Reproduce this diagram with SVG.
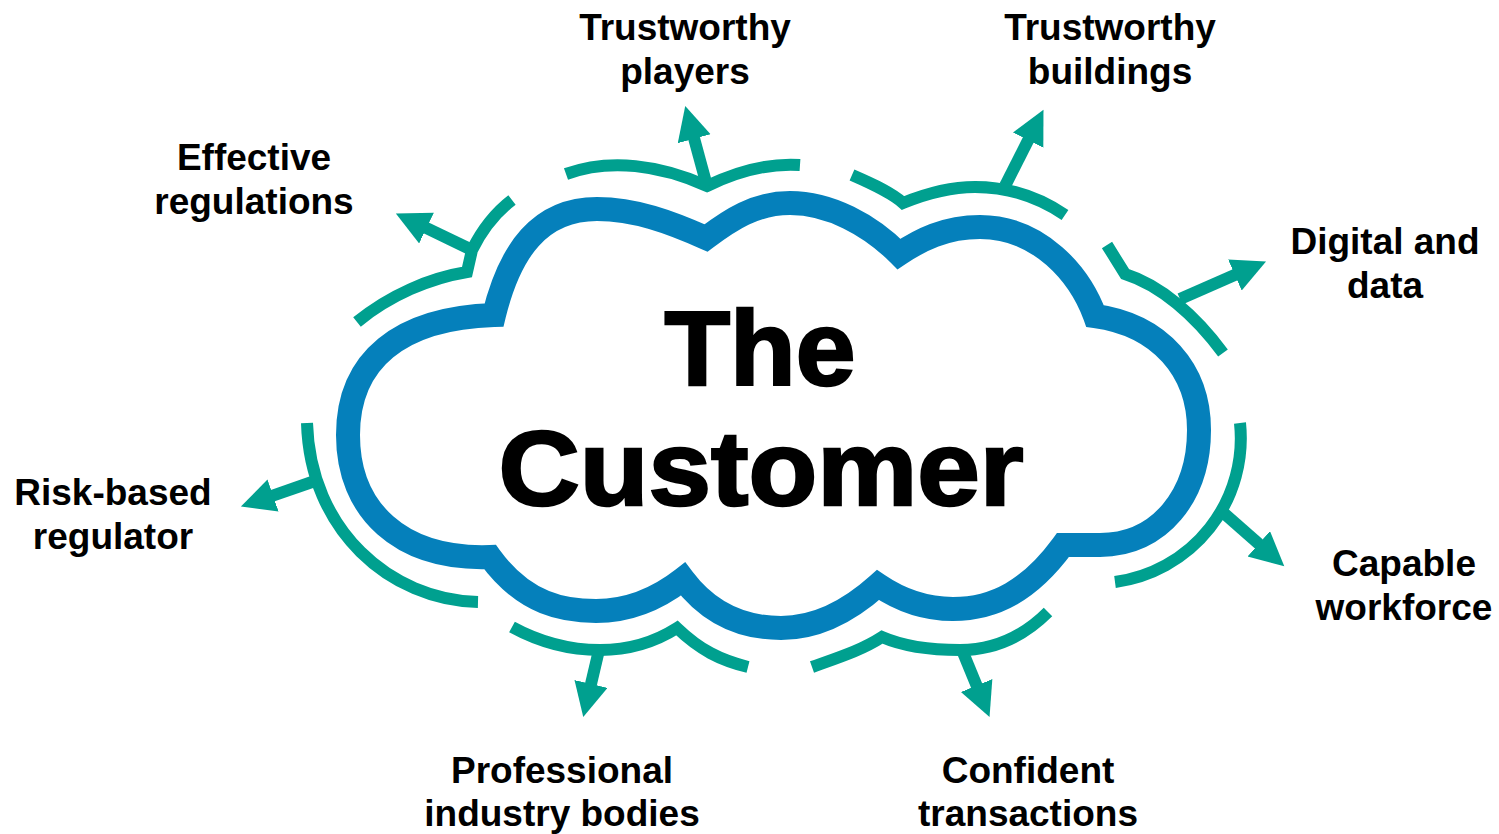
<svg xmlns="http://www.w3.org/2000/svg" width="1499" height="834" viewBox="0 0 1499 834">
<style>
.cloud{fill:#fff;stroke:#0580BB;stroke-width:24;stroke-linejoin:miter;stroke-miterlimit:10}
.arc{fill:none;stroke:#00A08F;stroke-width:12;stroke-linejoin:miter;stroke-miterlimit:10}
.shaft{fill:none;stroke:#00A08F;stroke-width:12;marker-end:url(#ah)}
.lbl{font-family:"Liberation Sans",Arial,sans-serif;font-weight:bold;font-size:37px;fill:#000;text-anchor:middle}
.big{font-family:"Liberation Sans",Arial,sans-serif;font-weight:bold;font-size:106px;fill:#000;stroke:#000;stroke-width:2.5;text-anchor:middle}
</style>
<defs>
<marker id="ah" markerUnits="userSpaceOnUse" markerWidth="36" markerHeight="36" refX="1" refY="17" orient="auto">
<path d="M0,0 L34,17 L0,34 z" fill="#00A08F"/>
</marker>
</defs>
<rect width="1499" height="834" fill="#fff"/>
<g id="cloud">
<path class="cloud" d="M494,315 C400,318 348,360 348,435 C348,510 400,560 490,557 C525,605 565,611 596,611 C630,611 660,597 683,579 C710,615 745,628 781,628 C815,628 848,612 878,585 C900,600 925,609 953,609 C995,609 1030,590 1063,545 L1100,545 C1160,545 1199,495 1199,430 C1199,370 1160,325 1095,316 C1080,275 1040,227 980,227 C945,227 920,240 899,254 C870,225 830,203 790,203 C755,203 730,220 706,238 C670,222 635,209 597,209 C540,209 510,250 494,315 Z"/>
<text class="big" x="760" y="385" textLength="191" lengthAdjust="spacingAndGlyphs">The</text>
<text class="big" x="761" y="505" textLength="525" lengthAdjust="spacingAndGlyphs">Customer</text>
</g>
<g id="connectors">
<path class="arc" d="M357,322 C390,295 430,278 467,272 L472,250 C482,230 495,213 512,200"/>
<path class="shaft" d="M472,250 L425.6,227.7"/>
<path class="arc" d="M566,174 C610,158 660,165 707,186 C740,170 770,163 800,165"/>
<path class="shaft" d="M707,186 L693.9,137.8"/>
<path class="arc" d="M852,175 C875,185 892,193 903,203 C930,192 955,187 975,187 C1010,187 1040,198 1065,215"/>
<path class="shaft" d="M1005,186 L1028.6,139.3"/>
<path class="arc" d="M1107,245 L1125,274 C1160,285 1195,315 1223,353"/>
<path class="shaft" d="M1180,299 L1235.8,274.6"/>
<path class="arc" d="M1240,423 A145,145 0 0 1 1115,582"/>
<path class="shaft" d="M1218,508 L1259.5,544.5"/>
<path class="arc" d="M307,423 C310,530 390,600 478,602"/>
<path class="shaft" d="M312,482 L272.1,495.8"/>
<path class="arc" d="M512,627 C545,645 575,650 600,650 C630,650 655,642 677,628 C700,650 720,660 748,667"/>
<path class="shaft" d="M599,650 L590.8,684.9"/>
<path class="arc" d="M812,667 C840,657 862,650 882,637 C905,647 930,650 960,650 C995,650 1025,635 1048,612"/>
<path class="shaft" d="M962,650 L977,686.5"/>
</g>
<g id="n-players"><text class="lbl" x="685" y="40">Trustworthy</text><text class="lbl" x="685" y="84">players</text></g>
<g id="n-buildings"><text class="lbl" x="1110" y="40">Trustworthy</text><text class="lbl" x="1110" y="84">buildings</text></g>
<g id="n-regulations"><text class="lbl" x="254" y="170">Effective</text><text class="lbl" x="254" y="214">regulations</text></g>
<g id="n-digital"><text class="lbl" x="1385" y="254">Digital and</text><text class="lbl" x="1385" y="298">data</text></g>
<g id="n-regulator"><text class="lbl" x="113" y="505">Risk-based</text><text class="lbl" x="113" y="549">regulator</text></g>
<g id="n-workforce"><text class="lbl" x="1404" y="576">Capable</text><text class="lbl" x="1404" y="620">workforce</text></g>
<g id="n-professional"><text class="lbl" x="562" y="783">Professional</text><text class="lbl" x="562" y="826">industry bodies</text></g>
<g id="n-confident"><text class="lbl" x="1028" y="783">Confident</text><text class="lbl" x="1028" y="826">transactions</text></g>
</svg>
